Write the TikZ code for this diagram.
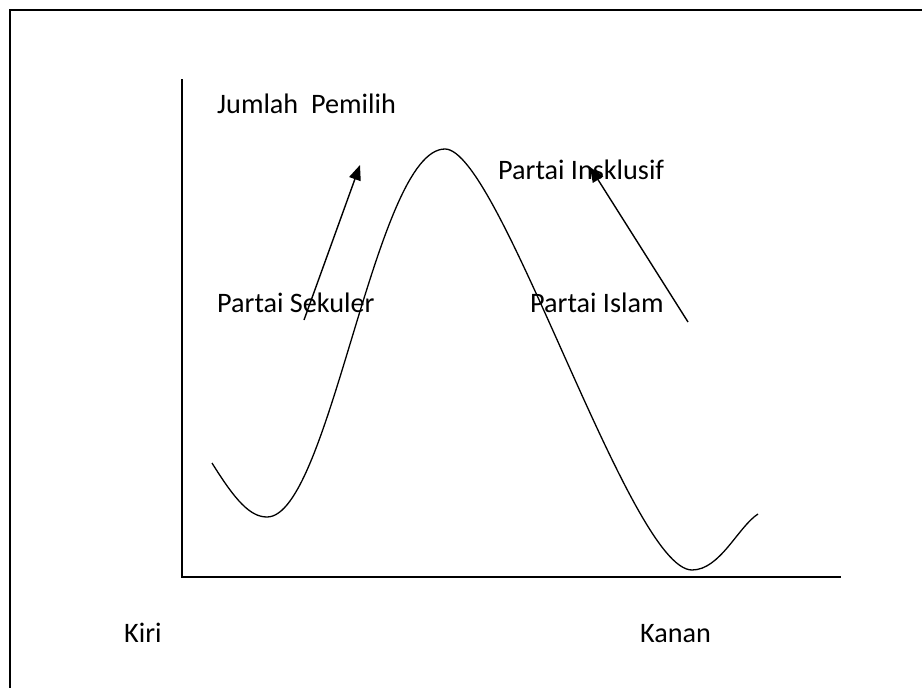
\documentclass[tikz,border=0pt]{standalone}
\usepackage{fontspec}
\setmainfont{Carlito}
\usetikzlibrary{arrows.meta}
\tikzset{
  frameline/.style={line width=2pt},
  axisline/.style={line width=1.8pt},
  curveline/.style={line width=1.3pt},
  arrowline/.style={line width=1.4pt,-{Triangle[length=15pt,width=12pt]}},
  lbl/.style={anchor=base west,inner sep=0pt,font=\fontsize{28.2}{34}\selectfont}
}
\begin{document}
\begin{tikzpicture}[x=1pt,y=-1pt]
\useasboundingbox (0,0) rectangle (922,688);
% frame (clipped on right and bottom)
\coordinate (fbl) at (10,688);
\coordinate (ftl) at (10,10);
\coordinate (ftr) at (922,10);
\draw[frameline] (fbl) -- (ftl) -- (ftr);
% axes
\coordinate (ytop) at (182,79);
\coordinate (origin) at (182,577);
\coordinate (xend) at (841,577);
\draw[axisline] (ytop) -- (origin) -- (xend);
% curve
\coordinate (c0) at (212,463);
\coordinate (c1) at (267,517);
\coordinate (c2) at (445,149);
\coordinate (c3) at (692,570);
\coordinate (c4) at (758,514);
\draw[curveline] (c0) .. controls (235,500) and (250,517) .. (c1)
  .. controls (330,517) and (375,149) .. (c2)
  .. controls (500,149) and (630,570) .. (c3)
  .. controls (720,570) and (738,527) .. (c4);
% labels
\node[lbl] (jp) at (217,113) {Jumlah\ \ Pemilih};
\node[lbl] (ps) at (217,312) {Partai Sekuler};
\node[lbl] (pi) at (530,312) {Partai Islam};
\node[lbl] (pk) at (498,179) {Partai Insklusif};
\node[lbl] (kiri) at (124,642) {Kiri};
\node[lbl] (kanan) at (640,642) {Kanan};
% arrows
\coordinate (a1s) at (304,320);
\coordinate (a1e) at (360,165);
\coordinate (a2s) at (688,322);
\coordinate (a2e) at (590,167);
\draw[arrowline] (a1s) -- (a1e);
\draw[arrowline] (a2s) -- (a2e);
\end{tikzpicture}
\end{document}
